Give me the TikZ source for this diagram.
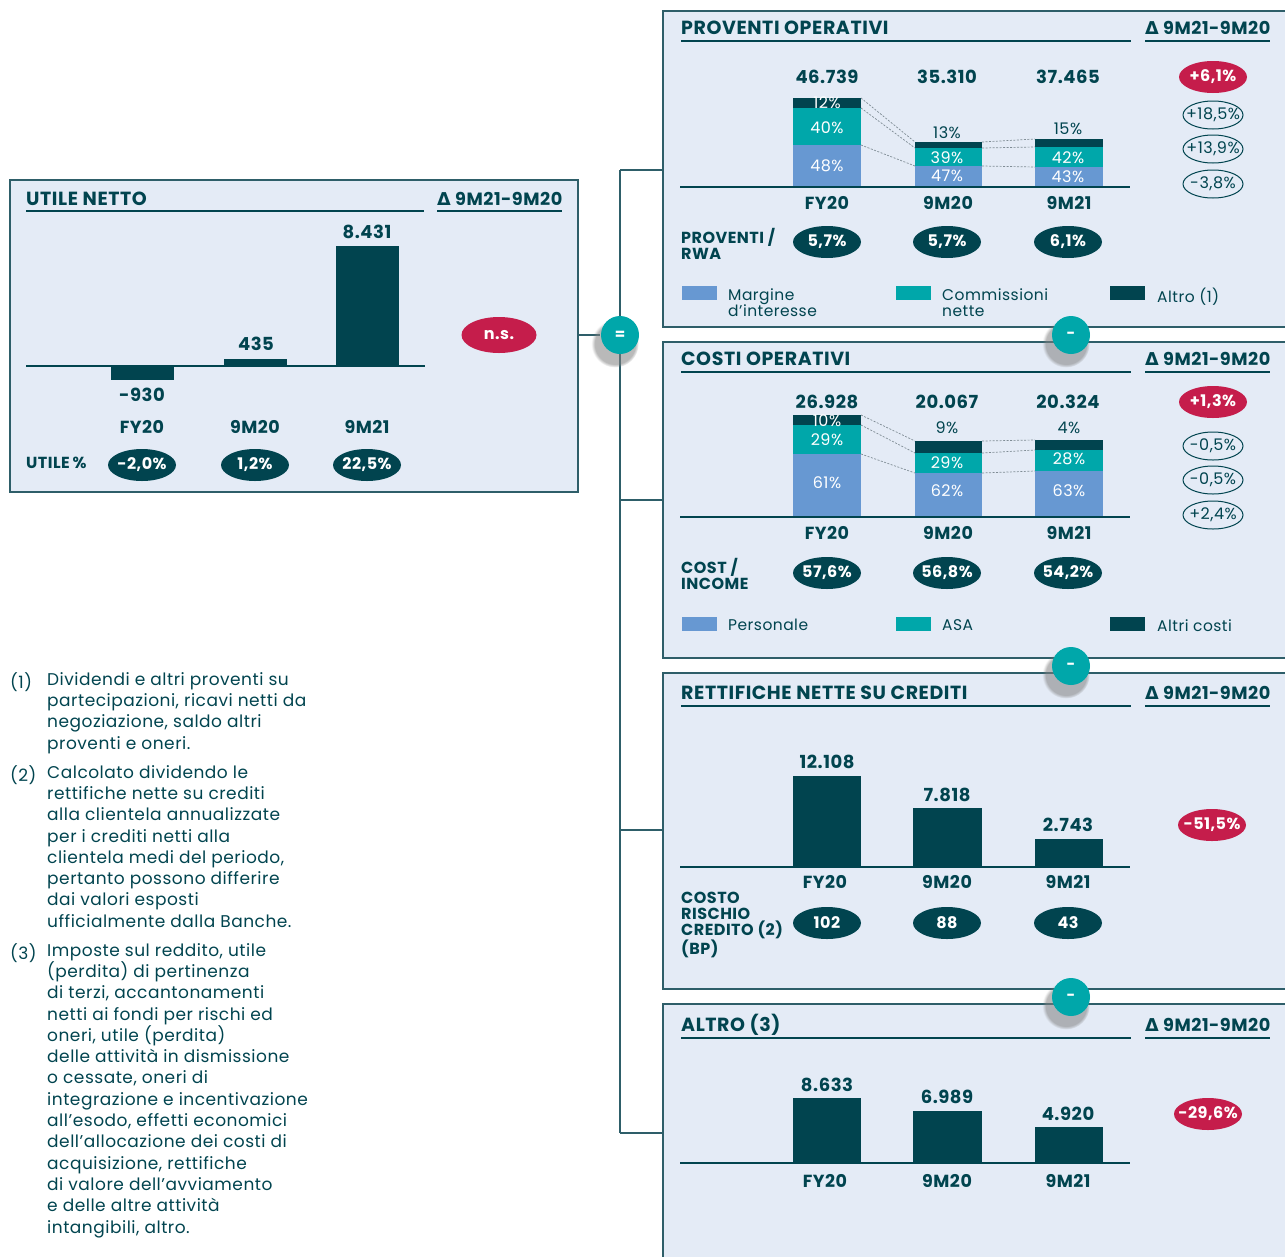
\documentclass[tikz,border=0pt]{standalone}
\usepackage{fontspec}
\setmainfont{Poppins}[LetterSpace=3]
\newfontfamily\dv{DejaVu Sans}
\usetikzlibrary{shapes.geometric,shadows}
\definecolor{dk}{HTML}{01444F}
\definecolor{tl}{HTML}{00A7AA}
\definecolor{bl}{HTML}{6798D2}
\definecolor{cr}{HTML}{C51D4B}
\definecolor{pf}{HTML}{E4EBF6}
\definecolor{bd}{HTML}{2E5E69}
\definecolor{dsh}{HTML}{7F8C95}
\tikzset{
  panel/.style={draw=bd, line width=1.3pt, fill=pf},
  ttl/.style={anchor=base west, inner sep=0, text=dk, font=\bfseries\fontsize{19}{19}\selectfont},
  dlt/.style={anchor=base west, inner sep=0, text=dk, font=\bfseries\fontsize{17.7}{18}\selectfont},
  uline/.style={draw=dk, line width=2pt},
  axis/.style={draw=dk, line width=2pt},
  val/.style={text=dk, inner sep=0, font=\bfseries\fontsize{18}{18}\selectfont},
  cat/.style={text=dk, inner sep=0, font=\bfseries\fontsize{17.5}{18}\selectfont},
  inl/.style={text=white, inner sep=0, font=\fontsize{16}{16}\selectfont},
  abv/.style={text=dk, inner sep=0, font=\fontsize{16}{16}\selectfont},
  pill/.style={ellipse, fill=dk, text=white, minimum width=68pt, minimum height=32pt, inner xsep=-8pt, inner ysep=0pt, font=\bfseries\fontsize{16}{17}\selectfont},
  rpill/.style={pill, fill=cr},
  opill/.style={ellipse, draw=dk, line width=1pt, text=dk, minimum width=60pt, minimum height=28pt, inner xsep=-8pt, inner ysep=0pt, font=\fontsize{16}{16}\selectfont},
  side/.style={anchor=north west, inner sep=0, text=dk, align=left, font=\bfseries\fontsize{16}{16}\selectfont},
  leg/.style={anchor=north west, inner sep=0, text=dk, align=left, font=\fontsize{15.5}{16}\selectfont},
  foot/.style={anchor=north west, inner sep=0, text=dk, align=left, font=\fontsize{17}{21.3}\selectfont},
  bar/.style={fill=dk},
  conn/.style={draw=bd, line width=1.3pt},
  dline/.style={draw=dsh, line width=0.7pt, dash pattern=on 2pt off 1.5pt},
  opnode/.style={circle, fill=tl, minimum size=38pt, inner sep=0, text=white, font=\bfseries\fontsize{15}{16}\selectfont,
    circular drop shadow={opacity=0.55, shadow xshift=-4pt, shadow yshift=-7pt, shadow scale=1.25}},
}
\begin{document}
\begin{tikzpicture}[x=1pt,y=-1pt]
\useasboundingbox (0,0) rectangle (1285,1256);
\clip (0,0) rectangle (1285,1256);

% ---------------- connectors ----------------
\coordinate (b0) at (620,170);
\coordinate (b1) at (620,500);
\coordinate (b2) at (620,830);
\coordinate (b3) at (620,1133);
\coordinate (p0) at (663,170);
\coordinate (p1) at (663,500);
\coordinate (p2) at (663,830);
\coordinate (p3) at (663,1133);
\coordinate (un) at (578,335);
\draw[conn] (b0) -- (b3);
\draw[conn] (b0) -- (p0);
\draw[conn] (b1) -- (p1);
\draw[conn] (b2) -- (p2);
\draw[conn] (b3) -- (p3);

% ---------------- UTILE NETTO ----------------
\draw[panel] (10,180) rectangle (578,492);
\node[ttl] (t0) at (26,205) {UTILE NETTO};
\draw[uline] (26,211) -- (424,211);
\node[dlt] (d0) at (437,205) {{\dv Δ} 9M21-9M20};
\draw[uline] (437,211) -- (562,211);
\fill[bar] (111,366) rectangle (174,380);
\fill[bar] (224,359) rectangle (287,366);
\fill[bar] (336,246) rectangle (399,366);
\draw[axis] (26,366) -- (425,366);
\node[val] (v01) at (142,395) {-930};
\node[val] (v02) at (256,344) {435};
\node[val] (v03) at (367,232) {8.431};
\node[cat] (c01) at (142,427) {FY20};
\node[cat] (c02) at (255,427) {9M20};
\node[cat] (c03) at (367,427) {9M21};
\node[side, anchor=west] (s0) at (26,463) {UTILE\,\%};
\node[pill] (e01) at (142,465) {-2,0\%};
\node[pill] (e02) at (255,465) {1,2\%};
\node[pill] (e03) at (367,465) {22,5\%};
\node[rpill, minimum width=75pt, minimum height=36pt] (ns) at (499,335) {n.s.};

% ---------------- panels ----------------
\draw[panel] (663,11) rectangle (1300,327);
\draw[panel] (663,342) rectangle (1300,658);
\draw[panel] (663,673) rectangle (1300,989);
\draw[panel] (663,1004) rectangle (1300,1300);

% ===== PROVENTI OPERATIVI =====
\node[ttl] (t1) at (681,34) {PROVENTI OPERATIVI};
\draw[uline] (681,41) -- (1131,41);
\node[dlt] (d1) at (1145,34) {{\dv Δ} 9M21-9M20};
\draw[uline] (1145,41) -- (1270,41);
% bars
\fill[bl] (793,145) rectangle (861,187);
\fill[tl] (793,108) rectangle (861,145);
\fill[dk] (793,98) rectangle (861,108);
\fill[bl] (915,166) rectangle (982,187);
\fill[tl] (915,148) rectangle (982,166);
\fill[dk] (915,142) rectangle (982,148);
\fill[bl] (1035,167) rectangle (1103,187);
\fill[tl] (1035,147) rectangle (1103,167);
\fill[dk] (1035,139) rectangle (1103,147);
\draw[dline] (861,98) -- (915,142);
\draw[dline] (861,108) -- (915,148);
\draw[dline] (861,145) -- (915,166);
\draw[dline] (982,142) -- (1035,139);
\draw[dline] (982,148) -- (1035,147);
\draw[dline] (982,166) -- (1035,167);
\draw[axis] (680,187) -- (1130,187);
\node[inl] at (827,103) {12\%};
\node[inl] at (827,128) {40\%};
\node[inl] at (827,166) {48\%};
\node[abv] at (947,133) {13\%};
\node[inl] at (947,158) {39\%};
\node[inl] at (947,176) {47\%};
\node[abv] at (1068,129) {15\%};
\node[inl] at (1068,158) {42\%};
\node[inl] at (1068,177) {43\%};
\node[val] (v11) at (827,77) {46.739};
\node[val] (v12) at (947,77) {35.310};
\node[val] (v13) at (1068,77) {37.465};
\node[cat] (c11) at (827,203) {FY20};
\node[cat] (c12) at (948,203) {9M20};
\node[cat] (c13) at (1069,203) {9M21};
\node[side] (s1) at (681,228) {PROVENTI /\\RWA};
\node[pill] (e11) at (827,242) {5,7\%};
\node[pill] (e12) at (947,242) {5,7\%};
\node[pill] (e13) at (1068,242) {6,1\%};
\node[rpill] (r1) at (1213,77) {+6,1\%};
\node[opill] (o11) at (1213,115) {+18,5\%};
\node[opill] (o12) at (1213,149) {+13,9\%};
\node[opill] (o13) at (1213,184) {-3,8\%};
\fill[bl] (682,286) rectangle (717,300);
\node[leg] (l11) at (728,288) {Margine\\d’interesse};
\fill[tl] (896,286) rectangle (931,300);
\node[leg] (l12) at (942,288) {Commissioni\\nette};
\fill[dk] (1110,286) rectangle (1145,300);
\node[leg] (l13) at (1157,288) {Altro (1)};

% ===== COSTI OPERATIVI =====
\node[ttl] (t2) at (681,365) {COSTI OPERATIVI};
\draw[uline] (681,372) -- (1131,372);
\node[dlt] (d2) at (1145,365) {{\dv Δ} 9M21-9M20};
\draw[uline] (1145,372) -- (1270,372);
\fill[bl] (793,454) rectangle (861,517);
\fill[tl] (793,425) rectangle (861,454);
\fill[dk] (793,415) rectangle (861,425);
\fill[bl] (915,473) rectangle (982,517);
\fill[tl] (915,453) rectangle (982,473);
\fill[dk] (915,441) rectangle (982,453);
\fill[bl] (1035,471) rectangle (1103,517);
\fill[tl] (1035,450) rectangle (1103,471);
\fill[dk] (1035,440) rectangle (1103,450);
\draw[dline] (861,415) -- (915,441);
\draw[dline] (861,425) -- (915,453);
\draw[dline] (861,454) -- (915,473);
\draw[dline] (982,441) -- (1035,440);
\draw[dline] (982,453) -- (1035,450);
\draw[dline] (982,473) -- (1035,471);
\draw[axis] (680,517) -- (1130,517);
\node[inl] at (827,421) {10\%};
\node[inl] at (827,440) {29\%};
\node[inl] at (827,483) {61\%};
\node[abv] at (947,428) {9\%};
\node[inl] at (947,463) {29\%};
\node[inl] at (947,491) {62\%};
\node[abv] at (1069,428) {4\%};
\node[inl] at (1069,459) {28\%};
\node[inl] at (1069,491) {63\%};
\node[val] (v21) at (827,402) {26.928};
\node[val] (v22) at (947,402) {20.067};
\node[val] (v23) at (1068,402) {20.324};
\node[cat] (c21) at (827,533) {FY20};
\node[cat] (c22) at (948,533) {9M20};
\node[cat] (c23) at (1069,533) {9M21};
\node[side] (s2) at (681,558) {COST /\\INCOME};
\node[pill] (e21) at (827,573) {57,6\%};
\node[pill] (e22) at (947,573) {56,8\%};
\node[pill] (e23) at (1068,573) {54,2\%};
\node[rpill] (r2) at (1213,402) {+1,3\%};
\node[opill] (o21) at (1213,446) {-0,5\%};
\node[opill] (o22) at (1213,480) {-0,5\%};
\node[opill] (o23) at (1213,515) {+2,4\%};
\fill[bl] (682,617) rectangle (717,631);
\node[leg] (l21) at (728,619) {Personale};
\fill[tl] (896,617) rectangle (931,631);
\node[leg] (l22) at (942,619) {ASA};
\fill[dk] (1110,617) rectangle (1145,631);
\node[leg] (l23) at (1157,619) {Altri costi};

% ===== RETTIFICHE =====
\node[ttl] (t3) at (681,699) {RETTIFICHE NETTE SU CREDITI};
\draw[uline] (681,706) -- (1131,706);
\node[dlt] (d3) at (1145,699) {{\dv Δ} 9M21-9M20};
\draw[uline] (1145,706) -- (1270,706);
\fill[bar] (793,776) rectangle (861,867);
\fill[bar] (913,808) rectangle (982,867);
\fill[bar] (1035,839) rectangle (1103,867);
\draw[axis] (680,867) -- (1130,867);
\node[val] (v31) at (827,762) {12.108};
\node[val] (v32) at (947,795) {7.818};
\node[val] (v33) at (1068,825) {2.743};
\node[cat] (c31) at (825,882) {FY20};
\node[cat] (c32) at (947,882) {9M20};
\node[cat] (c33) at (1068,882) {9M21};
\node[side] (s3) at (681,892) {COSTO\\RISCHIO\\CREDITO (2)\\(BP)};
\node[pill] (e31) at (827,923) {102};
\node[pill] (e32) at (947,923) {88};
\node[pill] (e33) at (1068,923) {43};
\node[rpill] (r3) at (1212,825) {-51,5\%};

% ===== ALTRO =====
\node[ttl] (t4) at (681,1031) {ALTRO (3)};
\draw[uline] (681,1038) -- (1131,1038);
\node[dlt] (d4) at (1145,1031) {{\dv Δ} 9M21-9M20};
\draw[uline] (1145,1038) -- (1270,1038);
\fill[bar] (793,1098) rectangle (861,1163);
\fill[bar] (913,1111) rectangle (982,1163);
\fill[bar] (1035,1127) rectangle (1103,1163);
\draw[axis] (680,1163) -- (1130,1163);
\node[val] (v41) at (827,1085) {8.633};
\node[val] (v42) at (947,1097) {6.989};
\node[val] (v43) at (1068,1114) {4.920};
\node[cat] (c41) at (825,1181) {FY20};
\node[cat] (c42) at (947,1181) {9M20};
\node[cat] (c43) at (1068,1181) {9M21};
\node[rpill] (r4) at (1208,1114) {-29,6\%};

% ---------------- operator circles ----------------
\draw[conn] (un) -- (600,335);
\node[opnode] (eq) at (620,335) {=};
\node[opnode] (m1) at (1071,335) {-};
\node[opnode] (m2) at (1071,666) {-};
\node[opnode] (m3) at (1071,997) {-};

% ---------------- footnotes ----------------
\node[foot] (f1n) at (10,672) {(1)};
\node[foot] (f1) at (47,672) {Dividendi e altri proventi su\\partecipazioni, ricavi netti da\\negoziazione, saldo altri\\proventi e oneri.};
\node[foot] (f2n) at (10,765) {(2)};
\node[foot] (f2) at (47,765) {Calcolato dividendo le\\rettifiche nette su crediti\\alla clientela annualizzate\\per i crediti netti alla\\clientela medi del periodo,\\pertanto possono differire\\dai valori esposti\\ufficialmente dalla Banche.};
\node[foot] (f3n) at (10,943) {(3)};
\node[foot] (f3) at (47,943) {Imposte sul reddito, utile\\(perdita) di pertinenza\\di terzi, accantonamenti\\netti ai fondi per rischi ed\\oneri, utile (perdita)\\delle attività in dismissione\\o cessate, oneri di\\integrazione e incentivazione\\all’esodo, effetti economici\\dell’allocazione dei costi di\\acquisizione, rettifiche\\di valore dell’avviamento\\e delle altre attività\\intangibili, altro.};
\end{tikzpicture}
\end{document}
